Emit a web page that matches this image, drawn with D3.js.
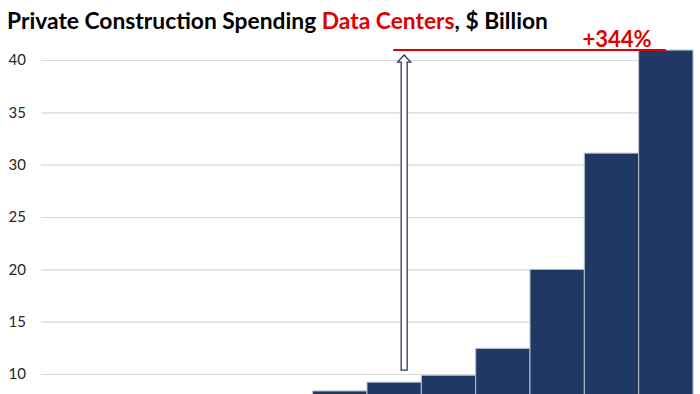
<!DOCTYPE html>
<html>
<head>
<meta charset="utf-8">
<script src="https://cdn.jsdelivr.net/npm/d3@7"></script>
<style>
  body { margin: 0; background: #fff; }
  svg { display: block; overflow: hidden; }
</style>
</head>
<body>
<div id="chart"></div>
<script>
// annual private construction spending on data centers, $ billion
const years = ["2014", "2015", "2016", "2017", "2018", "2019", "2020", "2021", "2022", "2023", "2024", "2025"];
const spending = [2.6, 3.4, 4.3, 5.2, 6.5, 8.38, 9.22, 9.88, 12.45, 20.0, 31.1, 40.95];
const yTicks = [10, 15, 20, 25, 30, 35, 40];
const growthLabel = "+344%";

const width = 700, height = 394;
const navy = "#1f3864", red = "#e00000";

let svg = d3.select("#chart")
  .append("svg")
  .attr("width", width)
  .attr("height", height);

let x = d3.scaleBand()
  .domain(years)
  .range([41, 693])
  .padding(0);

// picture is cut off at the bottom, so the scale runs past the frame
let y = d3.scaleLinear()
  .domain([10, 40])
  .range([374, 60]);

// gridlines + tick labels
let yAxis = d3.axisLeft(y)
  .tickValues(yTicks)
  .tickSize(-(693 - 41))
  .tickPadding(15);

let ax = svg.append("g")
  .attr("transform", "translate(41,0)")
  .call(yAxis);
ax.select(".domain").remove();
ax.selectAll(".tick line").attr("stroke", "#d9d9d9").attr("stroke-width", 1.2);
ax.selectAll(".tick text")
  .attr("font-family", "Lato, sans-serif")
  .attr("font-size", 15)
  .attr("fill", "#262626");

// bars
svg.selectAll(".bar")
  .data(years)
  .enter()
  .append("rect")
  .attr("class", "bar")
  .attr("x", d => x(d))
  .attr("y", (d, i) => y(spending[i]))
  .attr("width", x.bandwidth())
  .attr("height", (d, i) => y(0) - y(spending[i]))
  .attr("fill", navy)
  .attr("stroke", "#b8c2d4")
  .attr("stroke-width", 1);

// growth annotation: from 2020 to 2025
let base = years.indexOf("2020");
let last = years.length - 1;
let lineY = y(spending[last]);
let lineX0 = x(years[base]) + x.bandwidth() / 2 - 1;
let lineX1 = x(years[last]) + x.bandwidth() / 2;

svg.append("line")
  .attr("x1", lineX0)
  .attr("x2", lineX1)
  .attr("y1", lineY)
  .attr("y2", lineY)
  .attr("stroke", red)
  .attr("stroke-width", 2);

// hollow up arrow
let ax0 = lineX0 + 11;
let tipY = lineY + 5;
let headY = tipY + 7;
let bottomY = y(spending[base] + 1.15);
let arrow = d3.path();
arrow.moveTo(ax0, tipY);
arrow.lineTo(ax0 + 6.5, headY);
arrow.lineTo(ax0 + 3, headY);
arrow.lineTo(ax0 + 3, bottomY);
arrow.lineTo(ax0 - 3, bottomY);
arrow.lineTo(ax0 - 3, headY);
arrow.lineTo(ax0 - 6.5, headY);
arrow.closePath();

svg.append("path")
  .attr("d", arrow.toString())
  .attr("fill", "#fff")
  .attr("stroke", "#2a3a55")
  .attr("stroke-width", 1.3);

svg.append("text")
  .attr("x", 617)
  .attr("y", lineY - 3)
  .attr("text-anchor", "middle")
  .attr("font-family", "Lato, sans-serif")
  .attr("font-weight", "bold")
  .attr("font-size", 22)
  .attr("fill", red)
  .text(growthLabel);

// title
let title = svg.append("text")
  .attr("x", 7)
  .attr("y", 29)
  .attr("font-family", "Lato, sans-serif")
  .attr("font-weight", "bold")
  .attr("font-size", 22.8)
  .attr("fill", "#000");
title.append("tspan").text("Private Construction Spending ");
title.append("tspan").attr("fill", red).text("Data Centers");
title.append("tspan").text(", $ Billion");
</script>
</body>
</html>
